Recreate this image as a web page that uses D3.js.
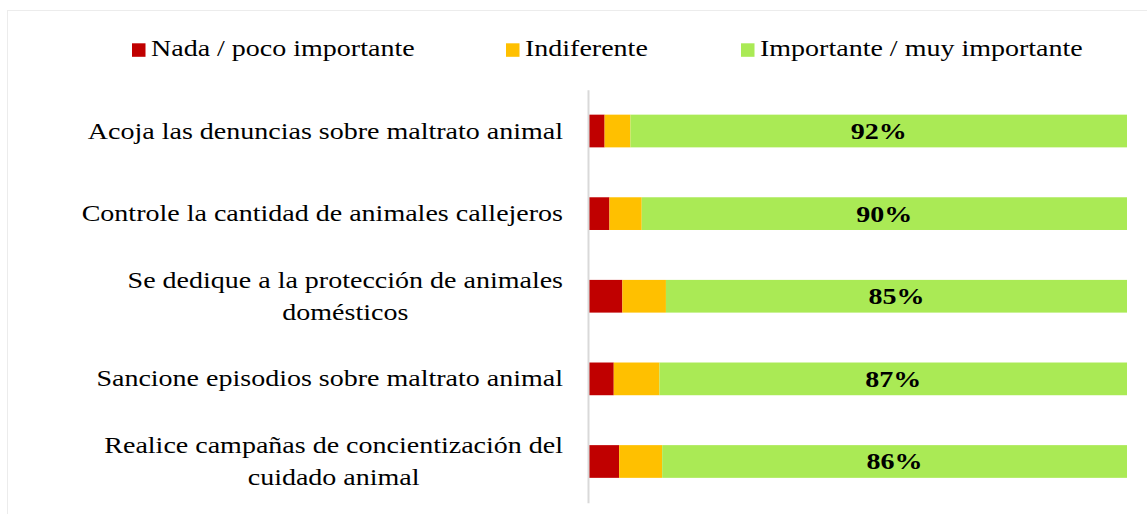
<!DOCTYPE html>
<html>
<head>
<meta charset="utf-8">
<script src="https://cdn.jsdelivr.net/npm/d3@7"></script>
<style>
  html, body { margin: 0; padding: 0; background: #fff; }
  svg { display: block; font-family: "Liberation Serif", "Times New Roman", serif; }
</style>
</head>
<body>
<svg id="chart" width="1147" height="514"></svg>
<script>
// ---- data ----
const categories = [
  "Acoja las denuncias sobre maltrato animal",
  "Controle la cantidad de animales callejeros",
  "Se dedique a la protección de animales\ndomésticos",
  "Sancione episodios sobre maltrato animal",
  "Realice campañas de concientización del\ncuidado animal"
];
const seriesNames = ["Nada / poco importante", "Indiferente", "Importante / muy importante"];
const nadaValues = [2.9, 3.8, 6.2, 4.6, 5.6];
const indiferenteValues = [4.8, 6.0, 8.1, 8.5, 8.0];
const importanteValues = [92.3, 90.2, 85.7, 86.9, 86.4];
const importanteLabels = ["92%", "90%", "85%", "87%", "86%"];
const colors = ["#C00000", "#FFC000", "#AAEA55"];

// ---- layout ----
const svg = d3.select("#chart");
const plot = { left: 589, right: 1127, top: 89.7, bottom: 502.8 };
const SX = 1.167; // horizontal stretch of the original text rendering
const FONT = "Liberation Serif, Times New Roman, serif";

// chart border
svg.append("rect")
  .attr("x", 7.5).attr("y", 10.5)
  .attr("width", 1200).attr("height", 600)
  .attr("fill", "none").attr("stroke", "#ececec").attr("stroke-width", 1);

const x = d3.scaleLinear().domain([0, 100]).range([plot.left, plot.right]);
const y = d3.scaleBand().domain(categories)
  .range([plot.top, plot.bottom])
  .paddingInner(0.604).paddingOuter(0.302);

const stackData = categories.map((c, i) => ({
  cat: c, s0: nadaValues[i], s1: indiferenteValues[i], s2: importanteValues[i]
}));
const series = d3.stack().keys(["s0", "s1", "s2"])(stackData);

const g = svg.append("g");
series.forEach((s, si) => {
  g.selectAll(null).data(s).join("rect")
    .attr("x", d => x(d[0]))
    .attr("y", d => y(d.data.cat))
    .attr("width", d => x(d[1]) - x(d[0]))
    .attr("height", y.bandwidth())
    .attr("fill", colors[si]);
});

// percentage labels
g.selectAll(null).data(series[2]).join("text")
  .attr("transform", `scale(${SX},1)`)
  .attr("x", d => ((x(d[0]) + x(d[1])) / 2) / SX)
  .attr("y", d => y(d.data.cat) + y.bandwidth() / 2 + 8)
  .attr("text-anchor", "middle")
  .attr("font-family", FONT)
  .attr("font-size", 24)
  .attr("font-weight", "bold")
  .attr("fill", "#000")
  .text((d, i) => importanteLabels[i]);

// axis
const axis = d3.axisLeft(y).tickSize(0).tickSizeOuter(0).tickPadding(25);
const ax = svg.append("g").attr("transform", `translate(${plot.left - 1},0)`).call(axis);
ax.attr("font-family", FONT);
ax.select(".domain").attr("stroke", "#d9d9d9").attr("stroke-width", 2);
ax.selectAll(".tick text").each(function(d) {
  const t = d3.select(this);
  const lines = d.split("\n");
  t.text(null)
    .attr("font-family", FONT)
    .attr("font-size", 24).attr("fill", "#000")
    .attr("dy", null)
    .attr("transform", `scale(${SX},1)`);
  const spans = lines.map(l => t.append("tspan").text(l));
  let maxW = 0;
  spans.forEach(s => { maxW = Math.max(maxW, s.node().getComputedTextLength()); });
  const cx = (-25 - maxW * SX / 2) / SX;
  const lh = 32;
  const startY = 7.5 - (lines.length - 1) * lh / 2;
  t.attr("text-anchor", "middle").attr("x", cx).attr("y", 0);
  spans.forEach((s, i) => s.attr("x", cx).attr("y", startY + i * lh));
});

// legend
const legendX = [132, 506, 741];
const leg = svg.append("g");
seriesNames.forEach((n, i) => {
  leg.append("rect").attr("x", legendX[i]).attr("y", 43.3)
    .attr("width", 13.5).attr("height", 13.5).attr("fill", colors[i]);
  leg.append("text")
    .attr("transform", `scale(${SX},1)`)
    .attr("x", (legendX[i] + 19) / SX).attr("y", 56)
    .attr("font-family", FONT)
    .attr("font-size", 24).attr("fill", "#000").text(n);
});
</script>
</body>
</html>
